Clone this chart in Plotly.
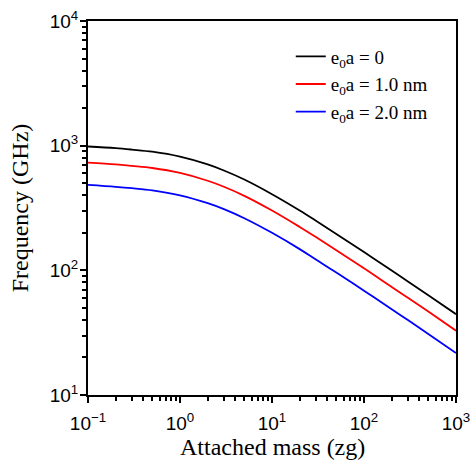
import plotly.graph_objects as go

# Attached mass (zg)
mass = [0.1, 0.2, 0.3, 0.5, 1, 2, 3, 5, 10, 20, 30, 50, 100, 200, 300, 500, 1000]
# Frequency (GHz)
f_e0 = [985, 955, 930, 894, 816, 707, 632, 535, 408, 302, 250, 196, 140, 99.5, 81.4, 63.1, 44.5]
f_e1 = [730, 707, 688, 662, 604, 523, 468, 396, 302, 223, 185, 145, 104, 73.6, 60.2, 46.7, 32.8]
f_e2 = [485, 468, 456, 438, 400, 346, 310, 262, 200, 148, 122, 96.0, 68.6, 48.8, 39.9, 30.9, 21.7]

names = ["e<sub>0</sub>a = 0", "e<sub>0</sub>a = 1.0 nm", "e<sub>0</sub>a = 2.0 nm"]
colors = ["#000000", "#ff0000", "#0000ff"]

x_tickvals = [0.1, 1, 10, 100, 1000]
x_ticktext = ["10<sup>\u22121</sup>", "10<sup>0</sup>", "10<sup>1</sup>", "10<sup>2</sup>", "10<sup>3</sup>"]
y_tickvals = [10, 100, 1000, 10000]
y_ticktext = ["10<sup>1</sup>", "10<sup>2</sup>", "10<sup>3</sup>", "10<sup>4</sup>"]
x_title = "Attached mass (zg)"
y_title = "Frequency (GHz)"

fig = go.Figure()
for ys, nm, c in zip([f_e0, f_e1, f_e2], names, colors):
    fig.add_trace(go.Scatter(x=mass, y=ys, mode="lines", name=nm,
                             line=dict(color=c, width=1.8, shape="spline")))

x_minor = [m * 10 ** e for e in range(-1, 3) for m in range(2, 10)]
y_minor = [m * 10 ** e for e in range(1, 4) for m in range(2, 10)]

tickfont = dict(family="Liberation Sans, Arial", size=19, color="black")
titlefont = dict(family="Liberation Serif, Times New Roman", size=24, color="black")

fig.update_layout(
    width=472, height=475,
    margin=dict(l=88, r=16, t=21, b=80, autoexpand=False),
    paper_bgcolor="white", plot_bgcolor="white",
    showlegend=True,
    legend=dict(x=0.551, y=0.956, xanchor="left", yanchor="top",
                font=dict(family="Liberation Serif, Times New Roman", size=19, color="black"),
                bgcolor="rgba(0,0,0,0)"),
    xaxis=dict(type="log", range=[-1, 3], tickmode="array", tickvals=x_tickvals, ticktext=x_ticktext,
               ticks="outside", ticklen=6, tickwidth=2, tickcolor="black", automargin=False,
               ticklabelstandoff=4,
               showline=True, linewidth=2, linecolor="black", mirror=True,
               showgrid=False, zeroline=False, tickfont=tickfont,
               minor=dict(tickmode="array", tickvals=x_minor, ticks="outside", ticklen=4,
                          tickwidth=1.5, tickcolor="black", showgrid=False)),
    yaxis=dict(type="log", range=[1, 4], tickmode="array", tickvals=y_tickvals, ticktext=y_ticktext,
               ticks="outside", ticklen=6, tickwidth=2, tickcolor="black", automargin=False,
               ticklabelstandoff=-2,
               showline=True, linewidth=2, linecolor="black", mirror=True,
               showgrid=False, zeroline=False, tickfont=tickfont,
               minor=dict(tickmode="array", tickvals=y_minor, ticks="outside", ticklen=4,
                          tickwidth=1.5, tickcolor="black", showgrid=False),
               title=dict(text=y_title, font=titlefont, standoff=14)),
    annotations=[dict(text=x_title, xref="paper", yref="paper", x=0.5, y=0,
                      xanchor="center", yanchor="middle", yshift=-52, showarrow=False,
                      font=titlefont)],
)

fig.write_html("out.html", config={"displayModeBar": False},
               post_script="document.body.style.margin='0';document.body.style.overflow='hidden';")
